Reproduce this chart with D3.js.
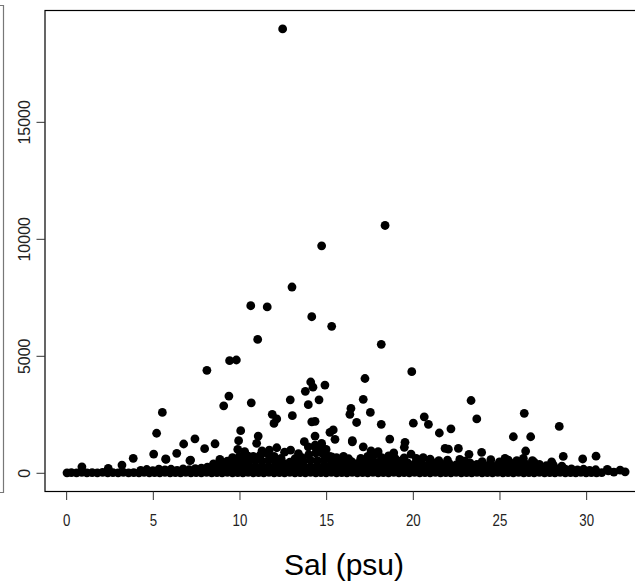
<!DOCTYPE html>
<html>
<head>
<meta charset="utf-8">
<script src="https://cdn.jsdelivr.net/npm/d3@7"></script>
<style>
  body { margin: 0; background: #fff; }
  svg { display: block; }
</style>
</head>
<body>
<div id="chart"></div>
<script>
// tick values
const xTicks = [0, 5, 10, 15, 20, 25, 30]
const yTicks = [0, 5000, 10000, 15000]

// dense band near zero as [sal, value]
const baseRow = [
  [0.05,0],[0.3,10],[0.6,0],[0.9,20],[1.2,0],[1.5,10],[1.8,0],[2.1,15],[2.4,0],[2.7,10],
  [3.0,0],[3.3,20],[3.6,0],[3.9,10],[4.2,0],[4.5,20],[4.8,0],[5.1,10],[5.4,0],[5.7,20],
  [6.0,0],[6.3,10],[6.6,0],[6.9,20],[7.2,0],[7.5,10],[7.8,0],[8.1,20],[8.4,0],[8.7,10],
  [9.0,0],[9.3,20],[9.6,0],[9.9,10],[10.2,0],[10.5,20],[10.8,0],[11.1,10],[11.4,0],[11.7,20],
  [12.0,0],[12.3,10],[12.6,0],[12.9,20],[13.2,0],[13.5,10],[13.8,0],[14.1,20],[14.4,0],[14.7,10],
  [15.0,0],[15.3,20],[15.6,0],[15.9,10],[16.2,0],[16.5,20],[16.8,0],[17.1,10],[17.4,0],[17.7,20],
  [18.0,0],[18.3,10],[18.6,0],[18.9,20],[19.2,0],[19.5,10],[19.8,0],[20.1,20],[20.4,0],[20.7,10],
  [21.0,0],[21.3,20],[21.6,0],[21.9,10],[22.2,0],[22.5,20],[22.8,0],[23.1,10],[23.4,0],[23.7,20],
  [24.0,0],[24.3,10],[24.6,0],[24.9,20],[25.2,0],[25.5,10],[25.8,0],[26.1,20],[26.4,0],[26.7,10],
  [27.0,0],[27.3,20],[27.6,0],[27.9,10],[28.2,0],[28.5,20],[28.8,0],[29.1,10],[29.4,0],[29.7,20],
  [30.0,0],[30.3,10],[30.6,0],[30.9,10]
]

const lowRow = [
  [4.3,100],[4.65,140],[5.0,90],[5.35,160],[5.7,120],[6.05,150],[6.4,100],[6.75,170],[7.1,130],[7.45,180],
  [7.8,200],[8.15,240],[8.5,220],[8.85,260],[9.2,240],[9.55,250],[9.9,260],[10.25,240],[10.6,250],[10.95,260],
  [11.3,240],[11.65,260],[12.0,250],[12.35,230],[12.7,250],[13.05,240],[13.4,260],[13.75,250],[14.1,240],[14.45,260],
  [14.8,250],[15.15,240],[15.5,260],[15.85,250],[16.2,240],[16.55,250],[16.9,260],[17.25,240],[17.6,250],[17.95,260],
  [18.3,240],[18.65,250],[19.0,260],[19.35,230],[19.7,250],[20.05,240],[20.4,230],[20.75,250],[21.1,220],[21.45,240],
  [21.8,230],[22.15,250],[22.5,220],[22.85,240],[23.2,230],[23.55,250],[23.9,220],[24.25,240],[24.6,230],[24.95,220],
  [25.3,240],[25.65,230],[26.0,250],[26.35,220],[26.7,240],[27.05,230],[27.4,210],[27.75,230],[28.1,200],[28.45,180],
  [28.8,150],[29.15,170],[29.5,120],[29.85,150],[30.2,100],[30.55,130]
]

const midRow = [
  [8.5,380],[8.9,450],[9.3,500],[9.7,470],[10.1,520],[10.5,480],[10.9,530],[11.3,500],[11.7,540],[12.1,480],
  [12.5,420],[12.9,450],[13.3,400],[13.7,500],[14.1,530],[14.5,520],[14.9,540],[15.3,500],[15.7,480],[16.1,420],
  [16.5,460],[16.9,430],[17.3,500],[17.7,520],[18.1,480],[18.5,510],[18.9,470],[19.3,500],[19.7,420],[20.1,380],
  [20.5,400],[20.9,360],[21.3,420],[21.7,350],[22.1,390],[22.5,340],[22.9,380],[23.3,420],[23.7,360],[24.1,340],
  [24.5,380],[24.9,330],[25.3,370],[25.7,400],[26.1,350],[26.5,380],[26.9,330],[27.3,360],[27.7,300],[28.1,340],
  [28.6,280]
]

const highRow = [
  [9.6,650],[10.0,700],[10.4,640],[10.8,700],[11.2,760],[11.6,820],[12.0,700],[12.4,620],[13.2,600],[13.6,650],
  [14.0,780],[14.4,850],[14.8,820],[15.2,700],[15.6,650],[16.3,600],[17.0,620],[17.4,700],[17.8,780],[18.2,650],
  [18.6,720],[19.0,600],[19.5,640],[20.2,620],[21.0,580],[21.5,520],[22.0,540],[23.0,500],[24.0,480],[25.0,470],
  [26.0,520],[27.0,450]
]

// scattered points above the band
const outliers = [
  [12.49,18970],[18.40,10570],[14.74,9700],[13.03,7940],[10.65,7140],[11.60,7090],[14.17,6670],[15.32,6260],
  [11.05,5700],[18.18,5490],[9.43,4790],[9.82,4820],[8.12,4380],[19.94,4320],[17.24,4030],[14.93,3750],
  [14.11,3880],[14.24,3660],[13.80,3480],[9.39,3280],[12.93,3120],[14.59,3120],[17.14,3140],[10.68,2990],
  [9.09,2860],[13.97,2910],[23.36,3090],[26.43,2540],[17.55,2580],[5.55,2580],[11.89,2500],[16.43,2750],
  [16.37,2500],[13.05,2440],[12.15,2300],[11.99,2110],[14.17,2180],[14.36,2200],[16.76,2150],[18.18,2070],
  [20.03,2120],[20.66,2390],[20.90,2070],[23.69,2300],[21.53,1700],[22.20,1880],[15.41,1830],[15.22,1730],
  [25.80,1540],[26.80,1540],[28.45,1980],[26.51,930],[10.07,1800],[9.95,1370],[9.90,1000],[11.08,1570],
  [10.99,1260],[7.43,1450],[5.22,1690],[6.78,1230],[8.59,1240],[7.99,1030],[6.38,830],[5.74,590],
  [5.05,800],[3.87,620],[3.22,330],[7.14,520],[12.95,970],[13.74,1330],[14.37,1180],[18.67,1440],
  [14.36,1570],[15.51,1430],[16.51,1370],[12.15,1070],[17.59,940],[17.14,1110],[14.72,1180],[14.89,940],
  [19.55,1300],[19.51,1090],[22.05,1010],[22.63,1040],[23.24,790],[23.97,870],[22.71,570],[28.68,700],
  [29.80,590],[30.57,710],[31.22,145],[31.96,115],[32.25,40],[31.28,85],[31.6,30],[25.32,615],[28.01,470],
  [0.91,256],[2.43,188],[5.76,573],[7.18,543],[8.87,573],[13.97,1110],[14.36,1110],[14.74,1256],
  [14.66,1043],[16.51,1325],[15.32,684],[21.86,1043],[25.51,543],[26.38,615],[10.5,714],[11.72,970],
  [12.6,880],[16.0,700],[19.9,800],[20.6,650],[24.5,560],[26.9,520],[10.3,900],[11.3,940],[15.0,1000],
  [18.0,900],[18.9,850],[13.4,820]
]

const allPoints = [].concat(baseRow, lowRow, midRow, highRow, outliers)

const width = 635
const height = 583

const x = d3.scaleLinear().domain([-1.22, 33.28]).range([45, 643])
const y = d3.scaleLinear().domain([-800, 19780]).range([491.5, 10])

const svg = d3.select("#chart").append("svg")
    .attr("width", width)
    .attr("height", height)

// edge of the neighbouring panel
svg.append("path")
    .attr("d", "M-10,5.5H3.5V492.5H-10")
    .attr("fill", "none")
    .attr("stroke", "#777")
    .attr("stroke-width", 1.2)

// points
svg.append("g")
    .selectAll("circle")
    .data(allPoints)
    .join("circle")
    .attr("cx", d => x(d[0]))
    .attr("cy", d => y(d[1]))
    .attr("r", 4.4)
    .attr("fill", "#000")

// box
svg.append("rect")
    .attr("x", 45).attr("y", 10.5)
    .attr("width", 643 - 45).attr("height", 491.5 - 10.5)
    .attr("fill", "none")
    .attr("stroke", "#000")
    .attr("stroke-width", 1.2)

// x axis
const gx = svg.append("g")
    .attr("transform", "translate(0,491.5)")
    .call(d3.axisBottom(x).tickValues(xTicks).tickSize(8.5).tickFormat(d3.format("d")))
gx.select(".domain").remove()
gx.selectAll(".tick line").attr("stroke", "#333")
gx.selectAll(".tick text")
    .attr("y", 0)
    .attr("dy", 0)
    .attr("transform", "translate(0,34.5) scale(0.78,1)")
    .attr("font-family", "'Liberation Sans', Arial, sans-serif")
    .attr("font-size", 17)
    .attr("fill", "#222")

// y axis
const gy = svg.append("g")
    .attr("transform", "translate(45,0)")
    .call(d3.axisLeft(y).tickValues(yTicks).tickSize(8.5).tickFormat(d3.format("d")))
gy.select(".domain").remove()
gy.selectAll(".tick line").attr("stroke", "#333")
gy.selectAll(".tick text")
    .attr("x", 0).attr("dy", 0)
    .attr("text-anchor", "middle")
    .attr("transform", "translate(-15.5,0) rotate(-90)")
    .attr("font-family", "'Liberation Sans', Arial, sans-serif")
    .attr("font-size", 16)
    .attr("fill", "#222")

// axis title
svg.append("text")
    .attr("x", 344)
    .attr("y", 575)
    .attr("text-anchor", "middle")
    .attr("font-family", "'Liberation Sans', Arial, sans-serif")
    .attr("font-size", 30)
    .attr("fill", "#000")
    .text("Sal (psu)")
</script>
</body>
</html>
